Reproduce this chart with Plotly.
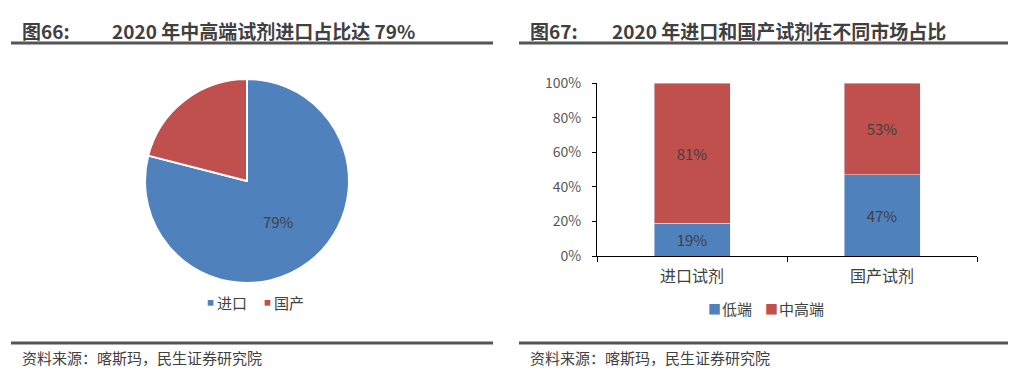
import plotly.graph_objects as go

W, H = 1019, 377

pie_labels = ["进口", "国产"]
pie_values = [79, 21]

bar_categories = ["进口试剂", "国产试剂"]
low_end = [19, 47]
mid_high_end = [81, 53]
series_names = ["低端", "中高端"]

BLUE = "#4F81BD"
RED = "#C0504D"
TXT = "#404040"
FONT = "Noto Sans CJK SC"

def px_x(x):
    return x / W

def px_y(y):
    return 1 - y / H

fig = go.Figure()

fig.add_trace(go.Pie(
    labels=pie_labels, values=pie_values, sort=False, direction="clockwise", rotation=0,
    marker=dict(colors=[BLUE, RED], line=dict(color="white", width=2)),
    texttemplate=["%{percent:.0%}", ""], textposition="inside", insidetextorientation="horizontal",
    textfont=dict(color=TXT, size=15, family=FONT),
    domain=dict(x=[px_x(145), px_x(349)], y=[px_y(283), px_y(79)]),
    showlegend=False, hoverinfo="label+percent",
))

fig.add_trace(go.Bar(
    x=bar_categories, y=low_end, name=series_names[0], marker=dict(color=BLUE),
    text=[f"{v}%" for v in low_end], textposition="inside", insidetextanchor="middle",
    textfont=dict(color=TXT, size=15, family=FONT), width=0.4, showlegend=False,
))
fig.add_trace(go.Bar(
    x=bar_categories, y=mid_high_end, name=series_names[1], marker=dict(color=RED),
    text=[f"{v}%" for v in mid_high_end], textposition="inside", insidetextanchor="middle",
    textfont=dict(color=TXT, size=15, family=FONT), width=0.4, showlegend=False,
))

fig.update_layout(
    width=W, height=H, margin=dict(l=0, r=0, t=0, b=0, autoexpand=False),
    paper_bgcolor="white", plot_bgcolor="white",
    barmode="stack",
    font=dict(family=FONT, color=TXT),
    xaxis=dict(domain=[px_x(597), px_x(977)], showline=True, linecolor="#000", linewidth=1,
               ticks="outside", tickson="boundaries", ticklen=5, tickcolor="#000", automargin=False,
               tickfont=dict(size=16, color=TXT, family=FONT), showgrid=False, fixedrange=True,
               ticklabelstandoff=6),
    yaxis=dict(domain=[px_y(256), px_y(83)], range=[0, 100], tickvals=[0, 20, 40, 60, 80, 100],
               ticktext=["0%", "20%", "40%", "60%", "80%", "100%"], showline=True, linecolor="#000",
               linewidth=1, ticks="outside", ticklen=4, tickcolor="#000", showgrid=False, automargin=False,
               tickfont=dict(size=14, color="#595959", family=FONT), zeroline=False,
               ticklabelstandoff=8, fixedrange=True),
    showlegend=False,
)

shapes = []
for x0, x1 in [(11, 493), (519, 1008)]:
    shapes.append(dict(type="line", xref="paper", yref="paper", x0=px_x(x0), x1=px_x(x1),
                       y0=px_y(43), y1=px_y(43), line=dict(color="#555555", width=3)))
    shapes.append(dict(type="line", xref="paper", yref="paper", x0=px_x(x0), x1=px_x(x1),
                       y0=px_y(343), y1=px_y(343), line=dict(color="#555555", width=3)))
fig.update_layout(shapes=shapes)

ann = []
def add_text(x, y, text, size, bold=False, color="#404040"):
    ann.append(dict(xref="paper", yref="paper", x=px_x(x), y=px_y(y), xanchor="left", yanchor="middle",
                    text=f"<b>{text}</b>" if bold else text, showarrow=False,
                    font=dict(size=size, color=color, family=FONT)))

add_text(20, 30, "图66:", 19, True)
add_text(110, 30, "2020 年中高端试剂进口占比达 79%", 19, True)
add_text(528, 30, "图67:", 19, True)
add_text(610, 30, "2020 年进口和国产试剂在不同市场占比", 19, True)
add_text(20, 357, "资料来源：喀斯玛，民生证券研究院", 15)
add_text(528, 357, "资料来源：喀斯玛，民生证券研究院", 15)

# Pie legend (small square markers)
pie_colors = [BLUE, RED]
pie_leg_x = [205, 262]
for lbl, col, lx in zip(pie_labels, pie_colors, pie_leg_x):
    add_text(lx, 302, "■", 7, color=col)
    add_text(lx + 10, 302, lbl, 15)

# Bar legend (larger square markers)
bar_colors = [BLUE, RED]
bar_leg_x = [706, 763]
for lbl, col, lx in zip(series_names, bar_colors, bar_leg_x):
    add_text(lx, 308, "■", 13, color=col)
    add_text(lx + 14, 308, lbl, 15)

fig.update_layout(annotations=ann)

fig.write_html("out.html", config={"displayModeBar": False},
               post_script="document.body.style.margin='0';document.body.style.overflow='hidden';")
